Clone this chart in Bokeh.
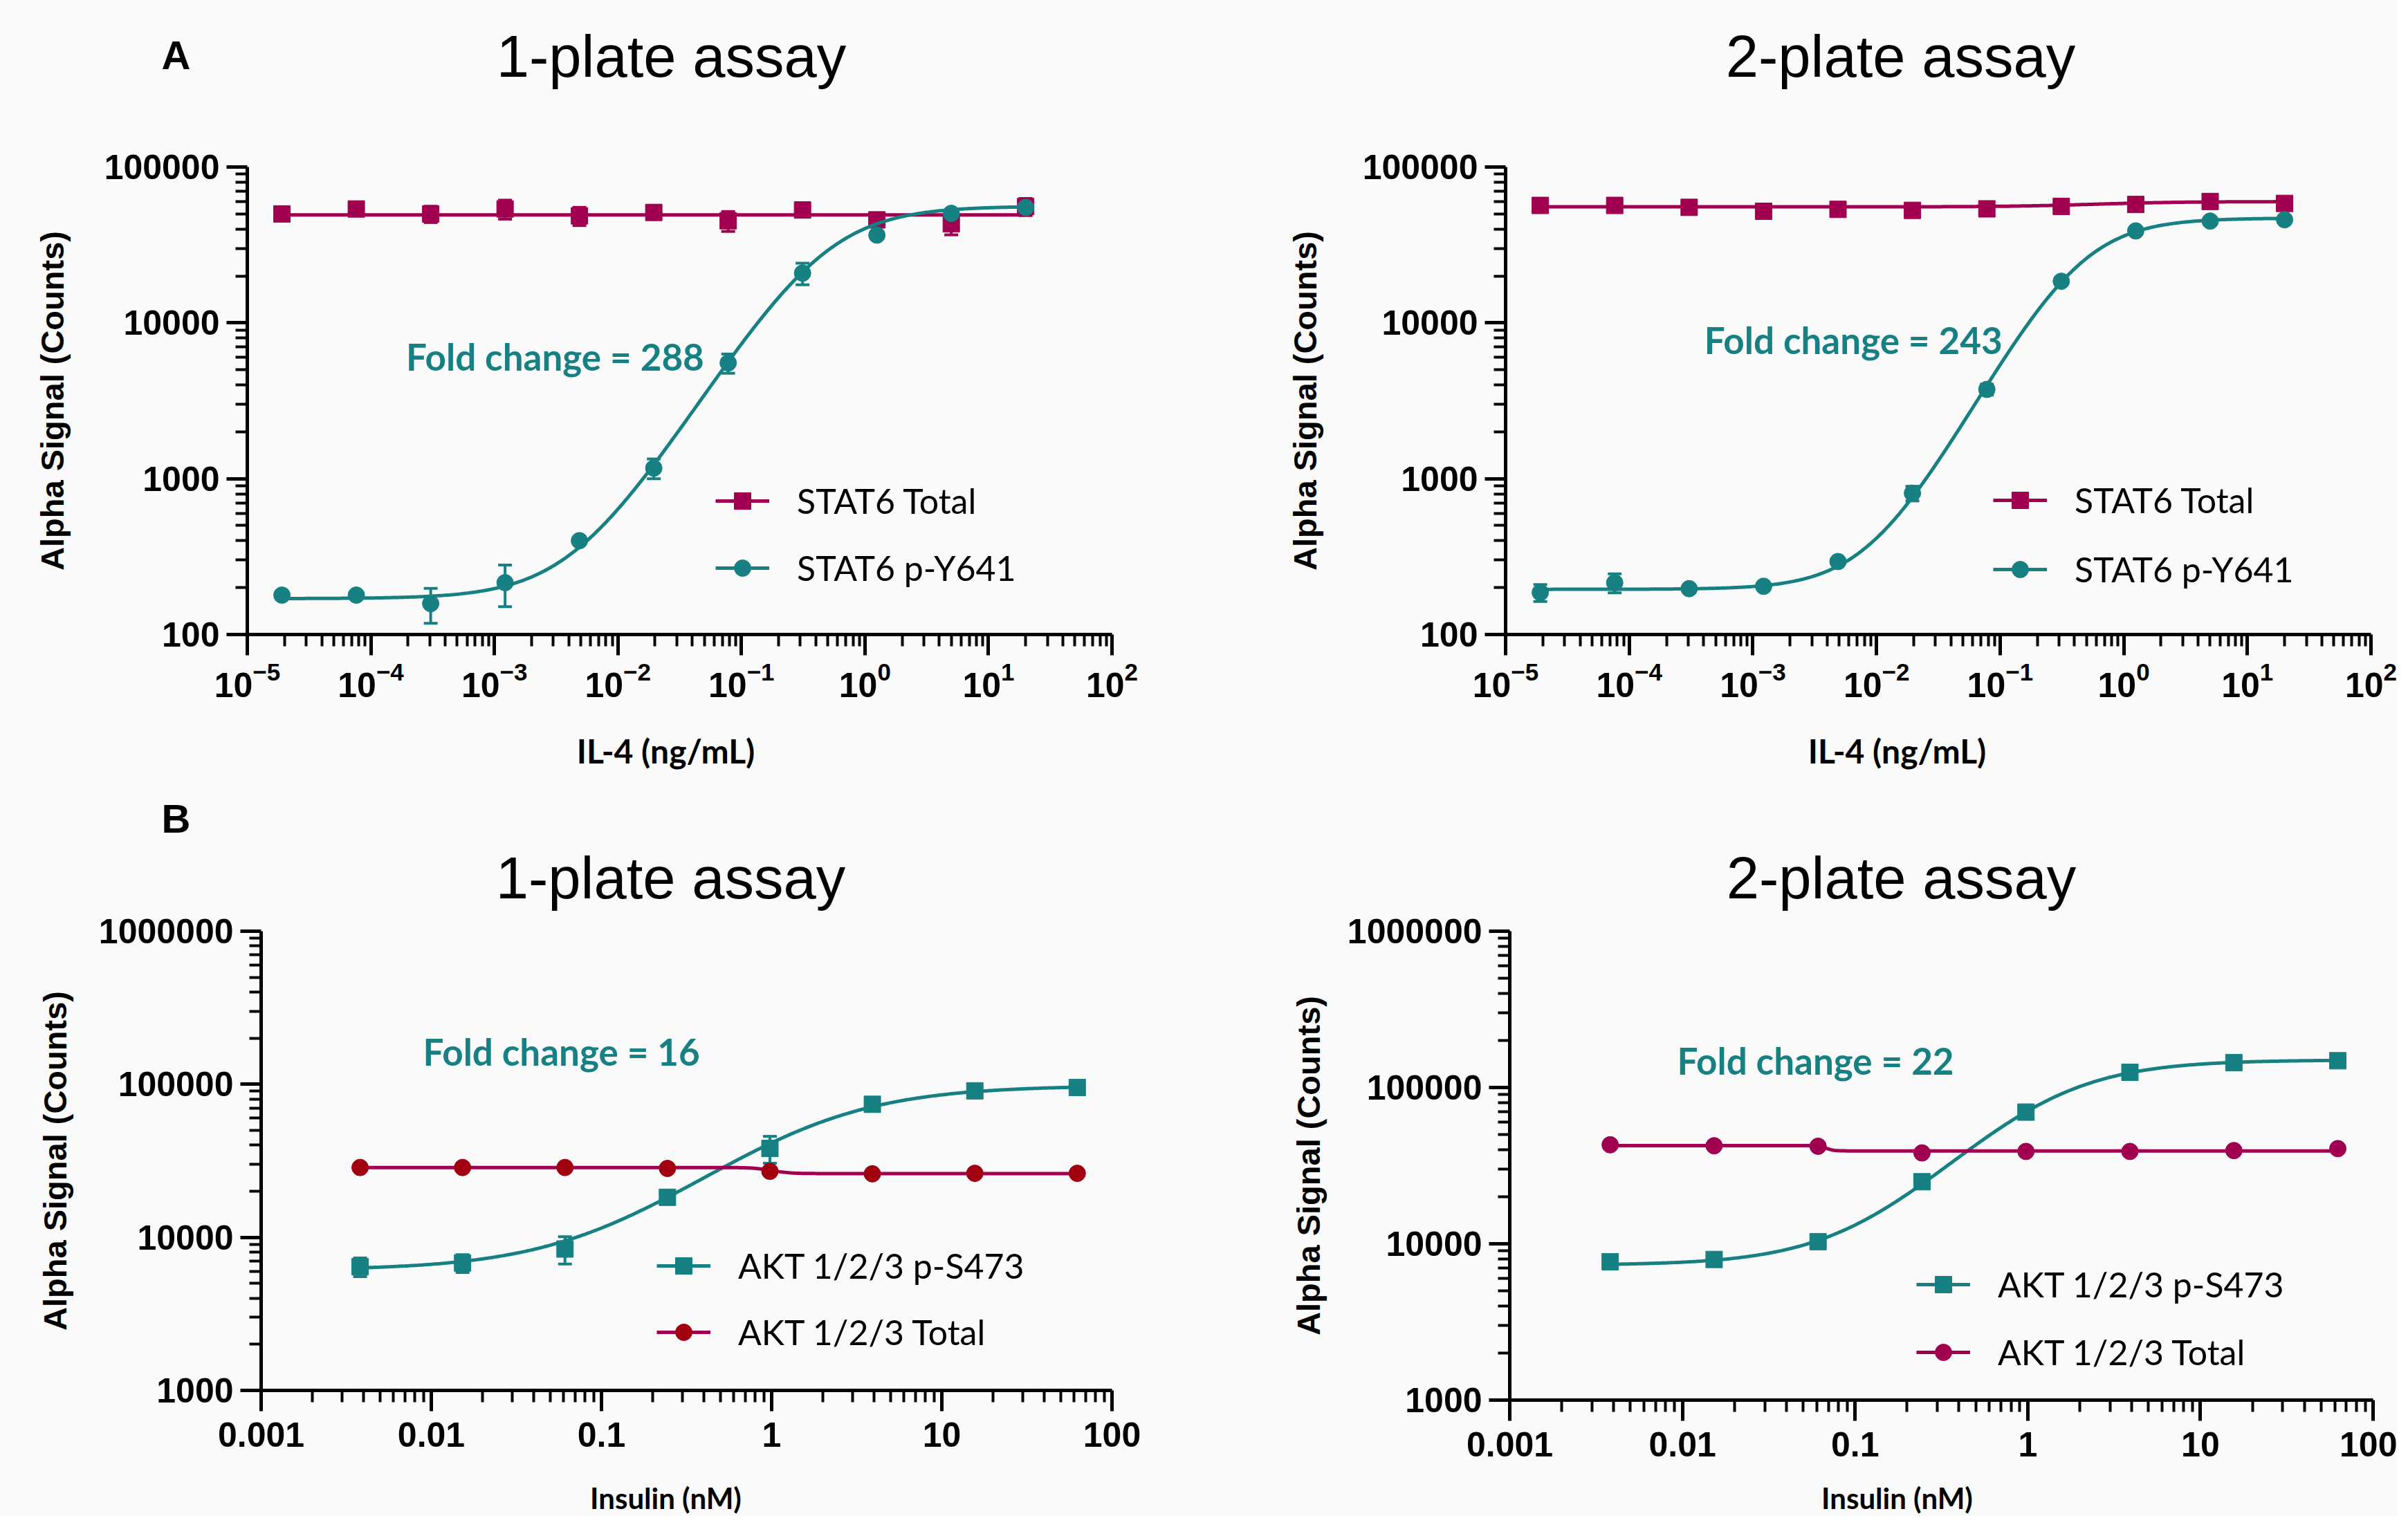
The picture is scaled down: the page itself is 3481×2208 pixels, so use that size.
import numpy as np
from bokeh.plotting import figure
from bokeh.layouts import column, row
from bokeh.models import (ColumnDataSource, Whisker, TeeHead, Legend, LegendItem, Label,
                          FixedTicker, CustomJSTickFormatter, LogTickFormatter, Range1d, Spacer)
from bokeh.core.properties import value
from bokeh.embed import file_html
from bokeh.resources import INLINE

# ---------------- data ----------------
il4_conc = [1.907e-5, 7.629e-5, 3.052e-4, 1.221e-3, 4.883e-3, 0.01953, 0.07813, 0.3125, 1.25, 5.0, 20.0]
insulin_conc = [0.003815, 0.01526, 0.06104, 0.2441, 0.9766, 3.906, 15.63, 62.5]

# Panel A, 1-plate
a1_total_mean = [50000, 53800, 50000, 53800, 48600, 51100, 45200, 53000, 45800, 43200, 55800]
a1_total_sd = [2500, 3000, 6000, 7500, 6500, 3000, 6600, 2500, 2500, 6500, 7000]
a1_p_mean = [179, 179, 158, 215, 400, 1169, 5530, 20850, 36560, 50400, 55000]
a1_p_sd = [8, 6, 40, 64, 15, 170, 780, 3300, 1500, 1200, 2500]
a1_total_fit = [49300, 49300, 1.0, 1.0]          # bottom, top, EC50, hill
a1_p_fit = [170, 56000, 0.47, 1.24]

# Panel A, 2-plate
a2_total_mean = [56700, 56700, 55100, 52000, 53500, 52700, 53900, 55900, 57500, 60100, 58400]
a2_total_sd = [1500, 1500, 1200, 1500, 1200, 1200, 1200, 1200, 1500, 1500, 1500]
a2_p_mean = [186, 215, 197, 204, 294, 807, 3740, 18500, 38900, 45000, 45900]
a2_p_sd = [23, 30, 8, 8, 15, 87, 300, 1000, 2000, 1500, 2000]
a2_total_fit = [55500, 60000, 0.6, 1.2]
a2_p_fit = [195, 47000, 0.434, 1.42]

# Panel B, 1-plate
b1_p_mean = [6430, 6800, 8390, 18270, 38100, 74000, 90600, 95300]
b1_p_sd = [900, 900, 1700, 1000, 7600, 3000, 3000, 2500]
b1_total_mean = [28600, 28600, 28600, 28200, 27000, 26000, 26200, 26200]
b1_total_sd = [600, 600, 600, 600, 600, 600, 600, 600]
b1_p_fit = [6100, 98000, 1.6, 1.0]
b1_total_fit = [28600, 26100, 1.0, 8.0]

# Panel B, 2-plate
b2_p_mean = [7670, 7940, 10320, 24950, 69600, 125100, 144200, 148300]
b2_p_sd = [250, 250, 350, 800, 2500, 4000, 4500, 4500]
b2_total_mean = [43000, 42400, 42100, 38150, 39000, 39000, 39500, 40650]
b2_total_sd = [1000, 1000, 1000, 1000, 1000, 1000, 1000, 1000]
b2_p_fit = [7300, 150000, 1.19, 1.27]
b2_total_fit = [42500, 39300, 0.068, 20.0]

fold_texts = ["Fold change = 288", "Fold change = 243", "Fold change = 16", "Fold change = 22"]
titles = ["1-plate assay", "2-plate assay", "1-plate assay", "2-plate assay"]
panel_letters = ["A", "B"]
x_titles = ["IL-4 (ng/mL)", "IL-4 (ng/mL)", "Insulin (nM)", "Insulin (nM)"]
y_title = "Alpha Signal (Counts)"

# ---------------- style ----------------
BG = "#FAFAFA"
MAG = "#A0004F"
TEAL = "#178083"
RED = "#A00010"
TICK_FONT = "Liberation Sans"
SANS = "Lato"
TOTAL_W = 3465
BG_STYLE = {"background-color": BG}


def four_pl(x, bottom, top, ec50, hill):
    return bottom + (top - bottom) / (1.0 + (ec50 / x) ** hill)


def decade_ticks(lo_exp, hi_exp):
    major = [10.0 ** k for k in range(lo_exp, hi_exp + 1)]
    minor = [m * 10.0 ** k for k in range(lo_exp, hi_exp) for m in range(2, 10)]
    return FixedTicker(ticks=major, minor_ticks=minor)


def text_strip(height, items):
    """A frameless strip holding headings; items: (x, y, text, font, style, size, color)."""
    s = figure(width=TOTAL_W, height=height, x_range=Range1d(0, TOTAL_W), y_range=Range1d(height, 0),
               output_backend="svg", toolbar_location=None, title=None,
               x_axis_location=None, y_axis_location=None,
               background_fill_color=BG, border_fill_color=BG, min_border=0)
    s.outline_line_color = None
    s.xgrid.visible = False
    s.ygrid.visible = False
    for (x, y, t, font, style, size, color) in items:
        s.text(x=[x], y=[y], text=[t], text_font=value(font), text_font_style=style,
               text_font_size=value(size), text_color=color, text_align="center",
               text_baseline="middle")
    return s


def make_panel(cfg):
    p = figure(width=cfg["w"], height=cfg["h"], x_axis_type="log", y_axis_type="log",
               x_range=Range1d(*cfg["xr"]), y_range=Range1d(*cfg["yr"]),
               output_backend="svg", toolbar_location=None, title=None,
               background_fill_color=BG, border_fill_color=BG)
    p.min_border_left, p.min_border_right, p.min_border_top, p.min_border_bottom = cfg["borders"]
    p.outline_line_color = None
    p.xgrid.visible = False
    p.ygrid.visible = False

    for ax in (p.xaxis[0], p.yaxis[0]):
        ax.axis_line_width = 5
        ax.axis_line_color = "black"
        ax.major_tick_line_width = 5
        ax.minor_tick_line_width = 4
        ax.major_tick_out = 30
        ax.major_tick_in = 0
        ax.minor_tick_out = 17
        ax.minor_tick_in = 0
        ax.major_label_text_font = TICK_FONT
        ax.major_label_text_font_style = "bold"
        ax.major_label_text_font_size = "50px"
        ax.major_label_text_color = "black"

    p.xaxis.ticker = decade_ticks(*cfg["xexp"])
    p.yaxis.ticker = decade_ticks(*cfg["yexp"])
    if cfg["xsup"]:
        p.xaxis.formatter = LogTickFormatter()
    else:
        p.xaxis.formatter = CustomJSTickFormatter(code="return String(tick);")
    p.yaxis.formatter = CustomJSTickFormatter(code="return String(Math.round(tick));")
    p.xaxis.major_label_standoff = cfg["xtick_standoff"]

    p.yaxis.axis_label = y_title
    p.yaxis.axis_label_text_font = TICK_FONT
    p.yaxis.axis_label_text_font_style = "bold"
    p.yaxis.axis_label_text_font_size = "47px"
    p.yaxis.axis_label_text_color = "black"
    p.yaxis.axis_label_standoff = cfg["ylab_standoff"]
    p.yaxis.major_label_standoff = 10

    items = []
    for s in cfg["series"]:
        x = np.array(cfg["conc"], dtype=float)
        mean = np.array(s["mean"], dtype=float)
        sd = np.array(s["sd"], dtype=float)
        xs = np.logspace(np.log10(x.min()), np.log10(x.max()), 400)
        ys = four_pl(xs, *s["fit"])
        line_r = p.line(xs, ys, line_color=s["line"], line_width=5)
        src = ColumnDataSource(dict(x=x, upper=mean + sd, lower=np.maximum(mean - sd, 1e-9)))
        w = Whisker(source=src, base="x", upper="upper", lower="lower", dimension="height",
                    line_color=s["line"], line_width=4,
                    upper_head=TeeHead(size=20, line_color=s["line"], line_width=4),
                    lower_head=TeeHead(size=20, line_color=s["line"], line_width=4))
        p.add_layout(w)
        sc = p.scatter(x, mean, marker=s["marker"], size=24, fill_color=s["mcol"],
                       line_color=s["mcol"], line_width=1)
        items.append(LegendItem(label=s["label"], renderers=[line_r, sc]))

    pitch = cfg["leg_pitch"]
    legend = Legend(items=items, location=cfg["leg_loc"], orientation="vertical",
                    glyph_width=78, glyph_height=60, label_height=40, label_standoff=40,
                    spacing=pitch - 60, padding=0, margin=0, border_line_color=None,
                    background_fill_alpha=0.0, label_text_font=SANS,
                    label_text_font_size="50px", label_text_color="black")
    p.add_layout(legend)

    fx, fy = cfg["fold_pos"]
    p.add_layout(Label(x=fx, y=fy, text=cfg["fold"], text_font=SANS, text_font_style="bold",
                       text_font_size="53px", text_color=TEAL, text_align="center",
                       text_baseline="middle"))
    return p


a1 = make_panel(dict(
    w=1732, h=892, borders=(357, 125, 93, 121), xr=(1e-5, 1e2), yr=(1e2, 1e5),
    xexp=(-5, 2), yexp=(2, 5), xsup=True, xtick_standoff=9, ylab_standoff=46,
    conc=il4_conc,
    series=[dict(label="STAT6 Total", mean=a1_total_mean, sd=a1_total_sd, fit=a1_total_fit,
                 line=MAG, mcol=MAG, marker="square"),
            dict(label="STAT6 p-Y641", mean=a1_p_mean, sd=a1_p_sd, fit=a1_p_fit,
                 line=TEAL, mcol=TEAL, marker="circle")],
    leg_loc=(677, 66), leg_pitch=97, fold=fold_texts[0], fold_pos=(3.1e-3, 6110)))

a2 = make_panel(dict(
    w=1733, h=892, borders=(444, 38, 95, 119), xr=(1e-5, 1e2), yr=(1e2, 1e5),
    xexp=(-5, 2), yexp=(2, 5), xsup=True, xtick_standoff=9, ylab_standoff=54,
    conc=il4_conc,
    series=[dict(label="STAT6 Total", mean=a2_total_mean, sd=a2_total_sd, fit=a2_total_fit,
                 line=MAG, mcol=MAG, marker="square"),
            dict(label="STAT6 p-Y641", mean=a2_p_mean, sd=a2_p_sd, fit=a2_p_fit,
                 line=TEAL, mcol=TEAL, marker="circle")],
    leg_loc=(705, 64), leg_pitch=100, fold=fold_texts[1], fold_pos=(6.5e-3, 7740)))

b1 = make_panel(dict(
    w=1732, h=796, borders=(377, 125, 26, 106), xr=(1e-3, 1e2), yr=(1e3, 1e6),
    xexp=(-3, 2), yexp=(3, 6), xsup=False, xtick_standoff=16, ylab_standoff=34,
    conc=insulin_conc,
    series=[dict(label="AKT 1/2/3 p-S473", mean=b1_p_mean, sd=b1_p_sd, fit=b1_p_fit,
                 line=TEAL, mcol=TEAL, marker="square"),
            dict(label="AKT 1/2/3 Total", mean=b1_total_mean, sd=b1_total_sd, fit=b1_total_fit,
                 line=MAG, mcol=RED, marker="circle")],
    leg_loc=(572, 54), leg_pitch=96, fold=fold_texts[2], fold_pos=(0.0582, 164000)))

b2 = make_panel(dict(
    w=1733, h=810, borders=(450, 35, 26, 106), xr=(1e-3, 1e2), yr=(1e3, 1e6),
    xexp=(-3, 2), yexp=(3, 6), xsup=False, xtick_standoff=16, ylab_standoff=27,
    conc=insulin_conc,
    series=[dict(label="AKT 1/2/3 p-S473", mean=b2_p_mean, sd=b2_p_sd, fit=b2_p_fit,
                 line=TEAL, mcol=TEAL, marker="square"),
            dict(label="AKT 1/2/3 Total", mean=b2_total_mean, sd=b2_total_sd, fit=b2_total_fit,
                 line=MAG, mcol=MAG, marker="circle")],
    leg_loc=(588, 39), leg_pitch=98, fold=fold_texts[3], fold_pos=(0.059, 149000)))

HEAD = (TICK_FONT, "normal", "85px", "black")
LETTER = (TICK_FONT, "bold", "58px", "black")
XLAB = (SANS, "bold", "48px", "black")
XLAB_B = (SANS, "bold", "42px", "black")

strip_top = text_strip(140, [
    (254, 73, panel_letters[0]) + LETTER,
    (970, 75, titles[0]) + HEAD,
    (2747, 75, titles[1]) + HEAD,
])
strip_mid = text_strip(282, [
    (962, 47, x_titles[0]) + XLAB,
    (2742, 47, x_titles[1]) + XLAB,
    (254, 145, panel_letters[1]) + LETTER,
    (969, 231, titles[2]) + HEAD,
    (2748, 231, titles[3]) + HEAD,
])
strip_bot = text_strip(62, [
    (962, 35, x_titles[2]) + XLAB_B,
    (2742, 35, x_titles[3]) + XLAB_B,
])

layout = column(Spacer(width=TOTAL_W, height=6, styles=BG_STYLE), strip_top,
                row(a1, a2, spacing=0, styles=BG_STYLE), strip_mid,
                row(b1, b2, spacing=0, styles=BG_STYLE), strip_bot,
                spacing=0, styles=BG_STYLE)

html = file_html(layout, INLINE, title="Alpha assay curves")
html = html.replace("<body>", '<body style="background-color:#FAFAFA;">', 1)
open("out.html", "w").write(html)
